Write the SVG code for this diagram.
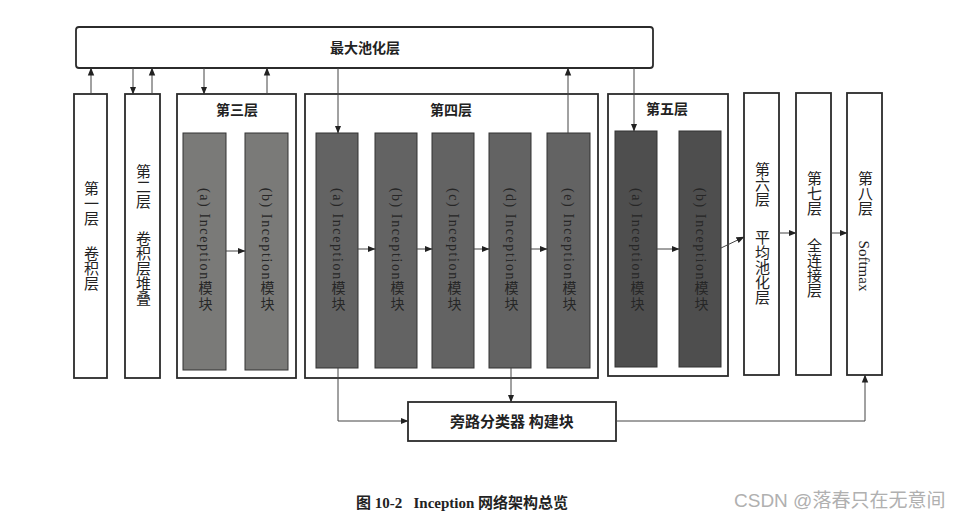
<svg xmlns="http://www.w3.org/2000/svg" width="960" height="519" viewBox="0 0 960 519">
<style>
.box{fill:#fff;stroke:#2b2b2b;stroke-width:1.8}
.m3{fill:#7a7a78;stroke:#333;stroke-width:1}
.m4{fill:#636363;stroke:#333;stroke-width:1}
.m5{fill:#4e4e4e;stroke:#333;stroke-width:1}
.t{font-family:"Liberation Serif","Noto Sans CJK SC",serif;fill:#222}
.h{font-size:14px;text-anchor:middle;font-weight:bold}
.v{font-size:15px;writing-mode:vertical-rl;text-anchor:middle}
.mt{font-size:14px;writing-mode:vertical-rl;text-anchor:middle;letter-spacing:1.6px;fill:#262626}
.c{fill:none;stroke:#444;stroke-width:1}
</style>
<defs>
<marker id="ah" markerUnits="userSpaceOnUse" markerWidth="8" markerHeight="8" viewBox="0 0 8 8" refX="7.5" refY="4" orient="auto">
<path d="M0,0.8 L8,4 L0,7.2 Z" fill="#222"/>
</marker>
</defs>
<rect width="960" height="519" fill="#fff"/>

<g id="maxpool">
<rect class="box" x="76" y="27" width="577" height="41" rx="3"/>
<text class="t h" x="365" y="53">最大池化层</text>
</g>

<g id="layer1">
<rect class="box" x="74" y="94" width="33" height="284"/>
<text class="t v" x="90" y="203">第一层</text>
<text class="t v" x="90" y="268">卷积层</text>
</g>

<g id="layer2">
<rect class="box" x="125" y="94" width="35" height="284"/>
<text class="t v" x="142" y="186">第二层</text>
<text class="t v" x="142" y="268">卷积层堆叠</text>
</g>

<g id="layer3">
<rect class="box" x="177" y="94" width="119" height="284"/>
<text class="t h" x="237" y="115">第三层</text>
<rect class="m3" x="183" y="133" width="43" height="237"/>
<text class="t mt" x="204" y="250">(a) Inception模块</text>
<rect class="m3" x="245" y="133" width="43" height="237"/>
<text class="t mt" x="266" y="250">(b) Inception模块</text>
</g>

<g id="layer4">
<rect class="box" x="305" y="94" width="293" height="284"/>
<text class="t h" x="451" y="115">第四层</text>
<rect class="m4" x="316" y="133" width="42" height="235"/>
<text class="t mt" x="337" y="250">(a) Inception模块</text>
<rect class="m4" x="375" y="133" width="42" height="235"/>
<text class="t mt" x="396" y="250">(b) Inception模块</text>
<rect class="m4" x="432" y="133" width="42" height="235"/>
<text class="t mt" x="453" y="250">(c) Inception模块</text>
<rect class="m4" x="489" y="133" width="42" height="235"/>
<text class="t mt" x="510" y="250">(d) Inception模块</text>
<rect class="m4" x="547" y="133" width="43" height="235"/>
<text class="t mt" x="568" y="250">(e) Inception模块</text>
</g>

<g id="layer5">
<rect class="box" x="608" y="94" width="120" height="282"/>
<text class="t h" x="667" y="114">第五层</text>
<rect class="m5" x="615" y="131" width="42" height="236"/>
<text class="t mt" x="636" y="250">(a) Inception模块</text>
<rect class="m5" x="679" y="131" width="42" height="236"/>
<text class="t mt" x="700" y="250">(b) Inception模块</text>
</g>

<g id="layer6">
<rect class="box" x="744" y="93" width="35" height="282"/>
<text class="t v" x="761" y="184">第六层</text>
<text class="t v" x="761" y="267">平均池化层</text>
</g>

<g id="layer7">
<rect class="box" x="796" y="93" width="35" height="282"/>
<text class="t v" x="813" y="193">第七层</text>
<text class="t v" x="813" y="268">全连接层</text>
</g>

<g id="layer8">
<rect class="box" x="847" y="93" width="35" height="282"/>
<text class="t v" x="864" y="193">第八层</text>
<text class="t v" x="864" y="266">Softmax</text>
</g>

<g id="bypass">
<rect class="box" x="408" y="402" width="208" height="39"/>
<text class="t h" x="512" y="427" style="font-size:15px">旁路分类器 构建块</text>
</g>

<g id="connectors">
<path class="c" d="M91,94 V68" marker-end="url(#ah)"/>
<path class="c" d="M133,68 V94" marker-end="url(#ah)"/>
<path class="c" d="M152,94 V68" marker-end="url(#ah)"/>
<path class="c" d="M204,68 V94" marker-end="url(#ah)"/>
<path class="c" d="M267,94 V68" marker-end="url(#ah)"/>
<path class="c" d="M338,68 V133" marker-end="url(#ah)"/>
<path class="c" d="M568,133 V68" marker-end="url(#ah)"/>
<path class="c" d="M634,68 V131" marker-end="url(#ah)"/>
<path class="c" d="M226,251 H245" marker-end="url(#ah)"/>
<path class="c" d="M358,249 H375" marker-end="url(#ah)"/>
<path class="c" d="M417,249 H432" marker-end="url(#ah)"/>
<path class="c" d="M474,249 H489" marker-end="url(#ah)"/>
<path class="c" d="M531,249 H547" marker-end="url(#ah)"/>
<path class="c" d="M657,249 H679" marker-end="url(#ah)"/>
<path class="c" d="M721,248 L744,237" marker-end="url(#ah)"/>
<path class="c" d="M779,233 H796" marker-end="url(#ah)"/>
<path class="c" d="M831,233 H847" marker-end="url(#ah)"/>
<path class="c" d="M338,368 V421 H408" marker-end="url(#ah)"/>
<path class="c" d="M511,368 V402" marker-end="url(#ah)"/>
<path class="c" d="M616,421 H865 V375" marker-end="url(#ah)"/>
</g>

<text x="356" y="508" style="font-family:'Liberation Serif','Noto Sans CJK SC',serif;font-size:15px;font-weight:bold;fill:#222" xml:space="preserve">图 10-2   Inception 网络架构总览</text>
<text x="734" y="507" style="font-family:'Liberation Sans','Noto Sans CJK SC',sans-serif;font-size:19px;fill:#b0b0b0">CSDN @落春只在无意间</text>
</svg>
